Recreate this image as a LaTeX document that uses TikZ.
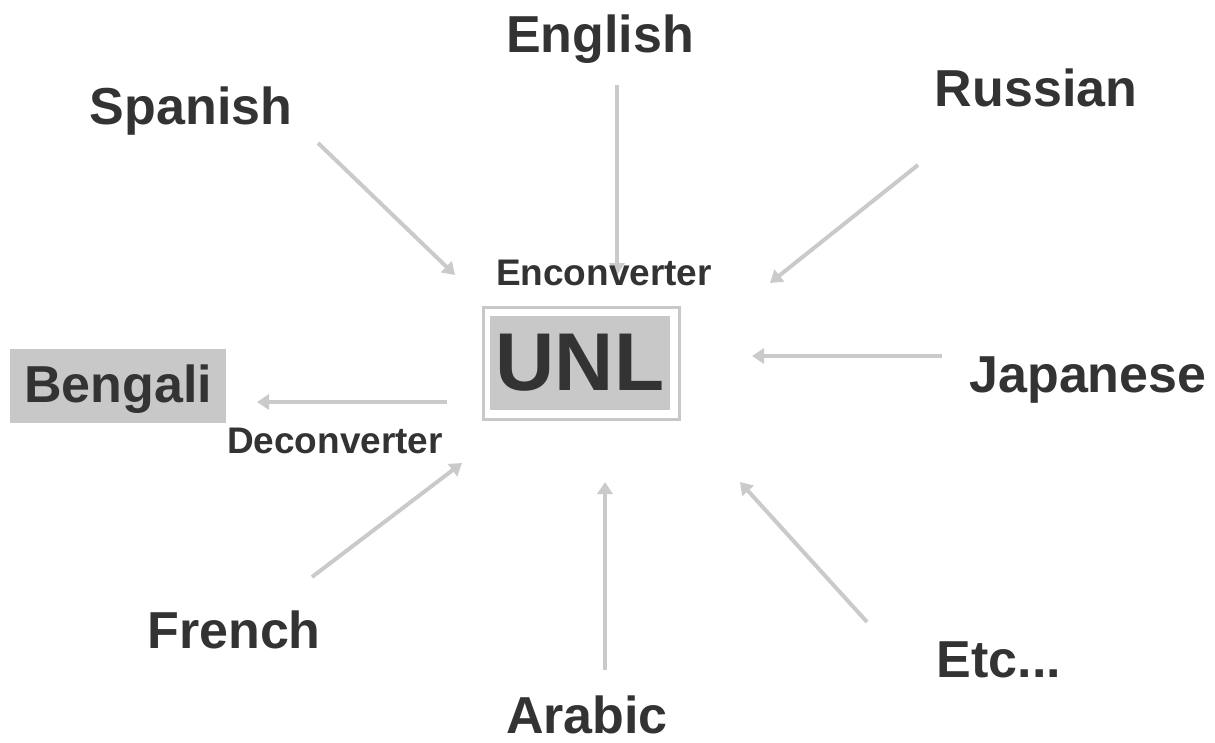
\documentclass[tikz,border=0pt]{standalone}
\usepackage{fontspec}
\setmainfont{Liberation Sans}
\usetikzlibrary{arrows.meta}
\definecolor{txt}{HTML}{333333}
\definecolor{arr}{HTML}{CACACA}
\definecolor{boxgray}{HTML}{C8C8C8}
\tikzset{
  lbl/.style={text=txt, font=\bfseries\fontsize{52}{60}\selectfont, inner sep=0pt, anchor=base},
  small/.style={text=txt, font=\bfseries\fontsize{37}{44}\selectfont, inner sep=0pt, anchor=base},
  conn/.style={draw=arr, line width=4pt, -{Triangle[width=15pt,length=12pt]}},
}
\begin{document}
\begin{tikzpicture}[x=1pt,y=-1pt]
\useasboundingbox (0,0) rectangle (1215,742);
% boxes
\node[fill=boxgray, minimum width=216pt, minimum height=74pt, inner sep=0pt] (bengbox) at (118,386) {};
\node[draw=boxgray, line width=3pt, minimum width=196pt, minimum height=112pt, inner sep=0pt] (unlouter) at (581,363) {};
\node[fill=boxgray, minimum width=180pt, minimum height=94pt, inner sep=0pt] (unlbox) at (580,363) {};
% connector end points
\coordinate (sp1) at (318,143); \coordinate (sp2) at (455,275);
\coordinate (en1) at (617,85);  \coordinate (en2) at (617,275);
\coordinate (ru1) at (918,165); \coordinate (ru2) at (770,283);
\coordinate (ja1) at (942,356); \coordinate (ja2) at (752,356);
\coordinate (et1) at (867,622); \coordinate (et2) at (740,482);
\coordinate (ar1) at (605,670); \coordinate (ar2) at (605,482);
\coordinate (fr1) at (312,577); \coordinate (fr2) at (462,463);
\coordinate (be1) at (447,402); \coordinate (be2) at (257,402);
\draw[conn] (sp1) -- (sp2);
\draw[conn] (en1) -- (en2);
\draw[conn] (ru1) -- (ru2);
\draw[conn] (ja1) -- (ja2);
\draw[conn] (et1) -- (et2);
\draw[conn] (ar1) -- (ar2);
\draw[conn] (fr1) -- (fr2);
\draw[conn] (be1) -- (be2);
% labels
\node[lbl] (english) at (600,52) {English};
\node[lbl] (spanish) at (191,124) {Spanish};
\node[lbl] (russian) at (1036,106) {Russian};
\node[lbl] (japanese) at (1088,392) {Japanese};
\node[lbl] (etc) at (999,677) {Etc...};
\node[lbl] (arabic) at (587,733) {Arabic};
\node[lbl] (french) at (234,648) {French};
\node[lbl] (bengali) at (118,402) {Bengali};
\node[text=txt, font=\bfseries\fontsize{82}{90}\selectfont, inner sep=0pt, anchor=base] (unl) at (580,390) {UNL};
\node[small] (enc) at (604,285) {Enconverter};
\node[small] (dec) at (335,453) {Deconverter};
\end{tikzpicture}
\end{document}
